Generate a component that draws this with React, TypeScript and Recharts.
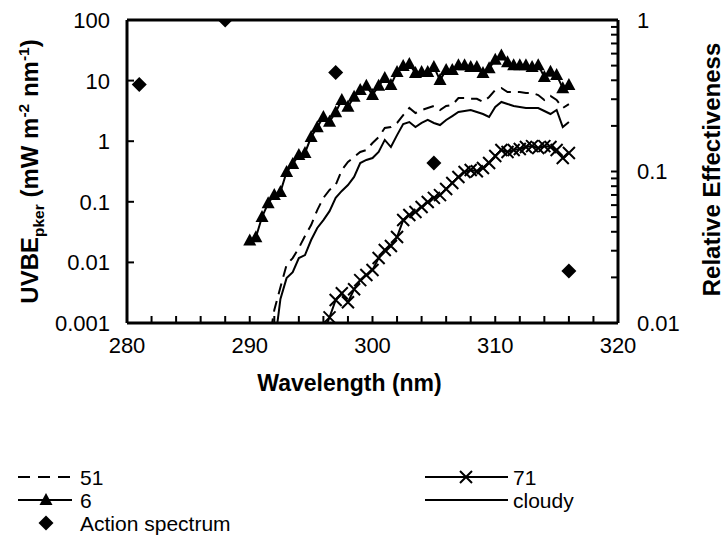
import React from 'react';
import { ComposedChart, Line, Scatter, XAxis, YAxis, Label, ReferenceLine } from 'recharts';

const FONT = '"Liberation Sans", Arial, Helvetica, sans-serif';

// Wavelength grid (nm)
const wavelengths = [290, 290.5, 291, 291.5, 292, 292.5, 293, 293.5, 294, 294.5, 295, 295.5, 296, 296.5, 297, 297.5, 298, 298.5, 299, 299.5, 300, 300.5, 301, 301.5, 302, 302.5, 303, 303.5, 304, 304.5, 305, 305.5, 306, 306.5, 307, 307.5, 308, 308.5, 309, 309.5, 310, 310.5, 311, 311.5, 312, 312.5, 313, 313.5, 314, 314.5, 315, 315.5, 316];

// Series "51" (dashed)
const series51 = [null, null, null, 0.0004, 0.00164, 0.0039, 0.0091, 0.0118, 0.0173, 0.0273, 0.0414, 0.073, 0.116, 0.157, 0.189, 0.335, 0.454, 0.548, 0.664, 0.716, 0.934, 1.17, 1.65, 1.71, 2.0, 2.7, 3.53, 2.92, 3.27, 3.53, 3.81, 3.27, 3.81, 3.96, 5.16, 5.16, 5.0, 5.0, 4.44, 5.36, 7.0, 7.55, 6.48, 6.48, 6.48, 6.24, 6.24, 5.78, 4.79, 5.6, 4.79, 3.53, 4.1];

// Series "6" (triangles)
const series6 = [0.023, 0.026, 0.056, 0.095, 0.13, 0.145, 0.31, 0.42, 0.59, 0.64, 1.17, 1.7, 2.5, 2.1, 3.0, 4.8, 3.7, 5.4, 7.0, 8.2, 5.8, 8.2, 11, 8.5, 13.9, 17.4, 18.8, 13.3, 13.9, 13.9, 16.8, 10.2, 15, 15, 18, 18, 16.8, 16.8, 13.3, 16, 22, 26, 20, 18, 18, 18, 16.8, 18, 11.5, 14, 12.4, 7.5, 8.5];

// Series "71" (x markers)
const series71 = [null, null, null, null, null, null, null, null, null, null, null, null, 0.0007, 0.00124, 0.0024, 0.0031, 0.0022, 0.0036, 0.0051, 0.0062, 0.0075, 0.0118, 0.016, 0.0187, 0.0262, 0.05, 0.0605, 0.068, 0.082, 0.099, 0.116, 0.129, 0.163, 0.204, 0.257, 0.31, 0.335, 0.32, 0.361, 0.437, 0.57, 0.716, 0.664, 0.716, 0.743, 0.8, 0.83, 0.77, 0.83, 0.8, 0.716, 0.528, 0.638];

// Series "cloudy" (solid)
const seriesCloudy = [null, null, null, null, 0.0004, 0.0025, 0.0055, 0.0069, 0.0118, 0.0132, 0.0234, 0.037, 0.05, 0.07, 0.116, 0.151, 0.189, 0.257, 0.437, 0.49, 0.528, 0.664, 1.05, 0.8, 1.26, 1.92, 2.07, 1.71, 2.0, 2.24, 2.0, 1.85, 2.24, 2.6, 3.03, 3.15, 3.27, 3.03, 2.81, 2.51, 3.67, 4.44, 4.11, 3.81, 3.67, 3.53, 3.53, 3.53, 3.15, 2.81, 3.27, 1.71, 2.07];

// Action spectrum (relative effectiveness, right axis)
const actionWavelengths = [281, 288, 297, 305, 316];
const actionValues = [0.375, 1.0, 0.45, 0.114, 0.022];

// Ticks
const xTicks = [280, 282, 284, 286, 288, 290, 292, 294, 296, 298, 300, 302, 304, 306, 308, 310, 312, 314, 316, 318, 320];
const xLabelTicks = [280, 290, 300, 310, 320];
const leftTicks = [0.001, 0.01, 0.1, 1, 10, 100];
const rightTicks = [0.01, 0.02, 0.03, 0.04, 0.05, 0.06, 0.07, 0.08, 0.09, 0.1, 0.2, 0.3, 0.4, 0.5, 0.6, 0.7, 0.8, 0.9, 1];
const rightLabelTicks = [0.01, 0.1, 1];
const leftTop = 100;

const seriesNames = { s51: '51', s6: '6', s71: '71', cloudy: 'cloudy', action: 'Action spectrum' };

const data = wavelengths.map((wl, i) => ({
  wl,
  s51: series51[i],
  s6: series6[i],
  s71: series71[i],
  cloudy: seriesCloudy[i],
}));

const actionData = actionWavelengths.map((wl, i) => ({ wl, rel: actionValues[i] }));

const TICK_FS = 22;
const TITLE_FS = 23;
const LEG_FS = 21;
const TICK_LEN = 7;
const TICK_W = 2;
const FRAME_W = 3;
const X_MARGIN = 14;
const L_MARGIN = 17;
const R_MARGIN = 19;

const XTick = (p: any) => {
  const { x, y, payload } = p;
  const axisY = y - X_MARGIN;
  return (
    <g>
      <path d={`M${x},${axisY}V${axisY - TICK_LEN}`} stroke="#000" strokeWidth={TICK_W} fill="none" />
      {xLabelTicks.includes(payload.value) ? (
        <text x={x} y={y} dy="0.71em" textAnchor="middle" fontSize={TICK_FS} fontFamily={FONT} fill="#000">
          {payload.value}
        </text>
      ) : null}
    </g>
  );
};

const LeftTick = (p: any) => {
  const { x, y, payload } = p;
  const axisX = x + L_MARGIN;
  return (
    <g>
      <path d={`M${axisX},${y}H${axisX + TICK_LEN}`} stroke="#000" strokeWidth={TICK_W} fill="none" />
      <text x={x} y={y} dy="0.36em" textAnchor="end" fontSize={TICK_FS} fontFamily={FONT} fill="#000">
        {String(payload.value)}
      </text>
    </g>
  );
};

const RightTick = (p: any) => {
  const { x, y, payload } = p;
  const axisX = x - R_MARGIN;
  return (
    <g>
      <path d={`M${axisX},${y}H${axisX - TICK_LEN}`} stroke="#000" strokeWidth={TICK_W} fill="none" />
      {rightLabelTicks.includes(payload.value) ? (
        <text x={x} y={y} dy="0.36em" textAnchor="start" fontSize={TICK_FS} fontFamily={FONT} fill="#000">
          {String(payload.value)}
        </text>
      ) : null}
    </g>
  );
};

const XTitle = (p: any) => {
  const vb = p.viewBox || { x: 127, y: 323, width: 491, height: 60 };
  const cx = vb.x + vb.width / 2 - 23;
  return (
    <text x={cx} y={vb.y + 68} textAnchor="middle" fontSize={TITLE_FS} fontWeight="bold" fontFamily={FONT} fill="#000">
      Wavelength (nm)
    </text>
  );
};

const LeftTitle = (p: any) => {
  const vb = p.viewBox || { x: 0, y: 20, width: 127, height: 303 };
  const x = vb.x + 38;
  const y = vb.y + vb.height / 2;
  return (
    <text transform={`rotate(-90 ${x} ${y})`} x={x} y={y} textAnchor="middle" fontSize={24} fontWeight="bold" fontFamily={FONT} fill="#000">
      UVBE<tspan fontSize={15.5} dy={6}>pker</tspan>
      <tspan dy={-6}> (mW m</tspan>
      <tspan fontSize={15.5} dy={-9}>-2</tspan>
      <tspan dy={9}> nm</tspan>
      <tspan fontSize={15.5} dy={-9}>-1</tspan>
      <tspan dy={9}>)</tspan>
    </text>
  );
};

const RightTitle = (p: any) => {
  const vb = p.viewBox || { x: 618, y: 20, width: 110, height: 303 };
  const x = vb.x + 102;
  const y = vb.y + vb.height / 2 - 2;
  return (
    <text transform={`rotate(-90 ${x} ${y})`} x={x} y={y} textAnchor="middle" fontSize={24} fontWeight="bold" fontFamily={FONT} fill="#000">
      Relative Effectiveness
    </text>
  );
};

const trianglePath = (cx: number, cy: number) => `M${cx},${cy - 7}L${cx + 6.5},${cy + 5}L${cx - 6.5},${cy + 5}Z`;
const crossPath = (cx: number, cy: number) => `M${cx - 6},${cy - 6}L${cx + 6},${cy + 6}M${cx - 6},${cy + 6}L${cx + 6},${cy - 6}`;
const diamondPath = (cx: number, cy: number) => `M${cx},${cy - 7.5}L${cx + 7.5},${cy}L${cx},${cy + 7.5}L${cx - 7.5},${cy}Z`;

const TriangleDot = (p: any) => {
  const { cx, cy, value, index } = p;
  if (cx == null || cy == null || value == null || value < 0.001) return <g key={`t${index}`} />;
  return <path key={`t${index}`} d={trianglePath(cx, cy)} fill="#000" stroke="none" />;
};

const CrossDot = (p: any) => {
  const { cx, cy, value, index } = p;
  if (cx == null || cy == null || value == null || value < 0.001) return <g key={`c${index}`} />;
  return <path key={`c${index}`} d={crossPath(cx, cy)} fill="none" stroke="#000" strokeWidth={2} />;
};

const DiamondShape = (p: any) => {
  const { cx, cy } = p;
  if (cx == null || cy == null) return <g />;
  return <path d={diamondPath(cx, cy)} fill="#000" stroke="none" />;
};

const LegendOverlay = () => {
  const textProps = { fontSize: LEG_FS, fontFamily: FONT, fill: '#000', dy: '0.36em' } as any;
  const r1 = 477;
  const r2 = 500;
  const r3 = 523;
  return (
    <svg width={728} height={110} viewBox="0 436 728 110" style={{ position: 'absolute', left: 0, top: 436, pointerEvents: 'none' }}>
      <line x1={18} y1={r1} x2={72} y2={r1} stroke="#000" strokeWidth={2} strokeDasharray="12 8" />
      <text x={80} y={r1} {...textProps}>{seriesNames.s51}</text>
      <line x1={18} y1={r2} x2={72} y2={r2} stroke="#000" strokeWidth={2} />
      <path d={trianglePath(46, r2)} fill="#000" />
      <text x={80} y={r2} {...textProps}>{seriesNames.s6}</text>
      <path d={diamondPath(46, r3)} fill="#000" />
      <text x={80} y={r3} {...textProps}>{seriesNames.action}</text>
      <line x1={425} y1={r1} x2={508} y2={r1} stroke="#000" strokeWidth={2} />
      <path d={crossPath(466, r1)} stroke="#000" strokeWidth={2} fill="none" />
      <text x={513} y={r1} {...textProps}>{seriesNames.s71}</text>
      <line x1={425} y1={r2} x2={508} y2={r2} stroke="#000" strokeWidth={2} />
      <text x={513} y={r2} {...textProps}>{seriesNames.cloudy}</text>
    </svg>
  );
};

export default function App() {
  const axisLine = { stroke: '#000', strokeWidth: FRAME_W };
  return (
    <div style={{ position: 'absolute', left: 0, top: 0, width: 728, height: 546, background: '#fff' }}>
      <ComposedChart width={728} height={546} data={data} margin={{ top: 20, right: 0, bottom: 163, left: 0 }}>
        <XAxis
          dataKey="wl"
          type="number"
          domain={[280, 320]}
          ticks={xTicks}
          interval={0}
          height={60}
          stroke="#000"
          axisLine={axisLine}
          tickLine={false}
          tickSize={0}
          tickMargin={X_MARGIN}
          tick={<XTick />}
        >
          <Label content={<XTitle />} />
        </XAxis>
        <YAxis
          yAxisId="left"
          orientation="left"
          type="number"
          scale="log"
          domain={[0.001, 100]}
          allowDataOverflow
          ticks={leftTicks}
          interval={0}
          width={127}
          stroke="#000"
          axisLine={axisLine}
          tickLine={false}
          tickSize={0}
          tickMargin={L_MARGIN}
          tick={<LeftTick />}
        >
          <Label content={<LeftTitle />} />
        </YAxis>
        <YAxis
          yAxisId="right"
          orientation="right"
          type="number"
          scale="log"
          domain={[0.01, 1]}
          allowDataOverflow
          ticks={rightTicks}
          interval={0}
          width={110}
          stroke="#000"
          axisLine={axisLine}
          tickLine={false}
          tickSize={0}
          tickMargin={R_MARGIN}
          tick={<RightTick />}
        >
          <Label content={<RightTitle />} />
        </YAxis>
        <ReferenceLine yAxisId="left" y={leftTop} stroke="#000" strokeWidth={FRAME_W} />
        <Line yAxisId="left" dataKey="s51" name={seriesNames.s51} stroke="#000" strokeWidth={2} strokeDasharray="11 7" dot={false} isAnimationActive={false} />
        <Line yAxisId="left" dataKey="cloudy" name={seriesNames.cloudy} stroke="#000" strokeWidth={2} dot={false} isAnimationActive={false} />
        <Line yAxisId="left" dataKey="s6" name={seriesNames.s6} stroke="#000" strokeWidth={2} dot={TriangleDot} isAnimationActive={false} />
        <Line yAxisId="left" dataKey="s71" name={seriesNames.s71} stroke="#000" strokeWidth={2} dot={CrossDot} isAnimationActive={false} />
        <Scatter yAxisId="right" data={actionData} dataKey="rel" name={seriesNames.action} shape={DiamondShape} isAnimationActive={false} />
      </ComposedChart>
      <LegendOverlay />
    </div>
  );
}
